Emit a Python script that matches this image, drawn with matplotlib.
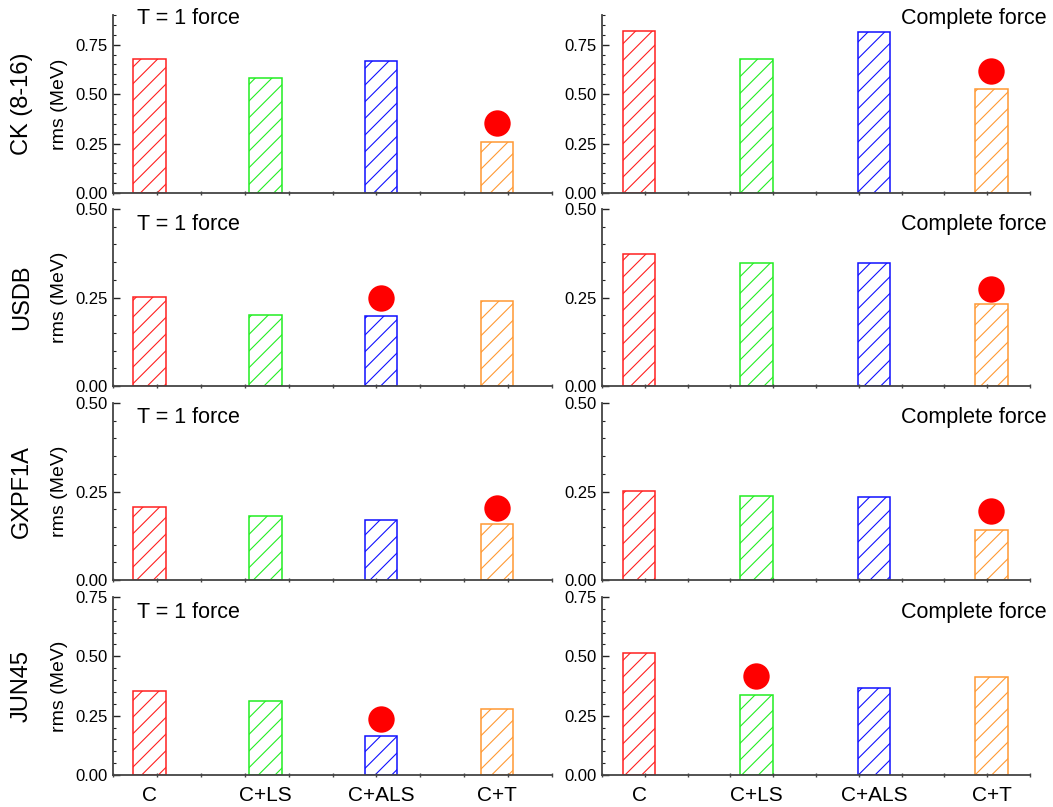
import numpy as np
import matplotlib
matplotlib.use("Agg")
import matplotlib.pyplot as plt
from matplotlib.ticker import MultipleLocator, FixedLocator

plt.rcParams['font.family'] = ['Liberation Sans', 'DejaVu Sans']
plt.rcParams['hatch.linewidth'] = 0.8

# Data
categories = ["C", "C+LS", "C+ALS", "C+T"]
interactions = ["CK (8-16)", "USDB", "GXPF1A", "JUN45"]
bar_colors = ["#ff2020", "#22ee22", "#1010ff", "#ff9933"]

# rms (MeV), T = 1 force (left column)
rms_t1 = [
    [0.678, 0.581, 0.666, 0.257],
    [0.251, 0.200, 0.198, 0.240],
    [0.207, 0.182, 0.170, 0.159],
    [0.353, 0.313, 0.163, 0.279],
]
# rms (MeV), complete force (right column)
rms_full = [
    [0.820, 0.679, 0.814, 0.527],
    [0.373, 0.347, 0.347, 0.232],
    [0.251, 0.237, 0.235, 0.140],
    [0.516, 0.339, 0.365, 0.415],
]
# red dots: which category and value
dot_idx_t1 = [3, 2, 3, 2]
dot_val_t1 = [0.353, 0.249, 0.204, 0.237]
dot_idx_full = [3, 3, 3, 1]
dot_val_full = [0.615, 0.274, 0.196, 0.417]

y_top = [0.9, 0.5, 0.5, 0.75]

W, H = 1053, 807
fig = plt.figure(figsize=(W / 100, H / 100), dpi=100)

# axes boxes in pixels
col_x = [(113, 552), (602, 1030)]
row_y = [(15, 193), (209, 386), (403, 580), (597, 775)]
xlims = [(0.685, 4.474), (0.685, 4.328)]
text_y = [0.98, 0.915, 0.92, 0.915]

xpos = np.arange(1, len(categories) + 1)

for r in range(4):
    for c in range(2):
        x0, x1 = col_x[c]
        yt, yb = row_y[r]
        ax = fig.add_axes([x0 / W, 1 - yb / H, (x1 - x0) / W, (yb - yt) / H])
        vals = rms_t1[r] if c == 0 else rms_full[r]
        for i, v in enumerate(vals):
            ax.bar(xpos[i], v, width=0.28, facecolor="none",
                   edgecolor=bar_colors[i], hatch="//", linewidth=1.1)
        if c == 0:
            ax.plot(xpos[dot_idx_t1[r]], dot_val_t1[r], "o", color="red",
                    markersize=19, markeredgewidth=0)
        else:
            ax.plot(xpos[dot_idx_full[r]], dot_val_full[r], "o", color="red",
                    markersize=19, markeredgewidth=0)

        ax.set_xlim(*xlims[c])
        ax.set_ylim(0, y_top[r])
        for s in ["top", "right"]:
            ax.spines[s].set_visible(False)
        for s in ["left", "bottom"]:
            ax.spines[s].set_color("#444444")
            ax.spines[s].set_linewidth(1.3)

        ax.yaxis.set_major_locator(MultipleLocator(0.25))
        ax.yaxis.set_minor_locator(MultipleLocator(0.05))
        ax.yaxis.set_major_formatter(plt.FormatStrFormatter("%.2f"))
        ax.tick_params(axis="y", which="major", direction="in", length=5,
                       width=1, labelsize=12, pad=4, colors="#222222",
                       labelcolor="black")
        ax.tick_params(axis="y", which="minor", direction="in", length=2.5,
                       width=0.8, colors="#222222")

        ax.set_xticks(xpos)
        if r == 3:
            ax.set_xticklabels(categories, fontsize=15)
        else:
            ax.set_xticklabels([])
        ax.xaxis.set_minor_locator(FixedLocator(np.linspace(*xlims[c], 11)))
        ax.tick_params(axis="x", which="major", length=0, pad=8)
        ax.tick_params(axis="x", which="minor", direction="inout", length=2.5,
                       width=1, colors="#444444")

        if c == 0:
            ax.text(0.055, text_y[r], "T = 1 force", transform=ax.transAxes,
                    fontsize=15.5, ha="left", va="center")
            ax.set_ylabel("rms (MeV)", fontsize=14, labelpad=5)
            fig.text(22 / W, 1 - ((yt + yb) / 2) / H, interactions[r],
                     rotation=90, fontsize=17, ha="center", va="center")
        else:
            ax.text(1.04, text_y[r], "Complete force", transform=ax.transAxes,
                    fontsize=15.5, ha="right", va="center")

fig.savefig("out.png", dpi=100)
